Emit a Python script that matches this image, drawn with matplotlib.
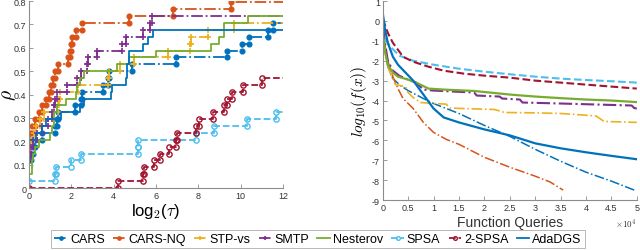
import numpy as np
import matplotlib
matplotlib.use("Agg")
import matplotlib.pyplot as plt
from matplotlib.ticker import FuncFormatter

plt.rcParams["font.family"] = ["Liberation Sans", "DejaVu Sans"]
plt.rcParams["mathtext.fontset"] = "cm"
plt.rcParams["axes.unicode_minus"] = False

# ---- performance profile (left): step positions log2(tau) and rho after each step
names = ["CARS", "CARS-NQ", "STP-vs", "SMTP", "Nesterov", "SPSA", "2-SPSA", "AdaDGS"]

tau_cars = [0, 0.1, 0.2, 0.3, 0.6, 1.25, 1.3, 1.35, 2.15, 2.45, 2.5, 3.48, 3.75, 3.8,
            4.85, 6.93, 9.34, 10.08, 10.39, 11.27, 11.54]
rho_cars = [0.118, 0.147, 0.176, 0.206, 0.235, 0.265, 0.294, 0.324, 0.353, 0.382, 0.412,
            0.441, 0.471, 0.5, 0.529, 0.559, 0.588, 0.618, 0.647, 0.676, 0.706]

tau_nq = [0, 0.05, 0.15, 0.3, 0.45, 0.6, 0.8, 0.95, 1.05, 1.15, 1.25, 1.35, 1.85, 1.95,
          2.0, 2.05, 2.2, 2.5, 4.7, 6.8, 9.55]
rho_nq = [0.206, 0.235, 0.265, 0.294, 0.324, 0.353, 0.382, 0.412, 0.441, 0.471, 0.5,
          0.529, 0.559, 0.588, 0.618, 0.647, 0.676, 0.706, 0.735, 0.765, 0.794]

tau_stp = [0, 0.05, 0.1, 0.25, 0.35, 0.5, 0.7, 1.35, 1.4, 1.45, 2.3, 3.75, 3.8, 4.3,
           4.95, 6.58, 7.6, 7.65, 8.45, 9.7]
rho_stp = [0.147, 0.176, 0.206, 0.235, 0.265, 0.294, 0.324, 0.353, 0.382, 0.412, 0.441,
           0.471, 0.5, 0.529, 0.559, 0.588, 0.618, 0.647, 0.676, 0.706]

tau_smtp = [0, 0.05, 0.1, 0.2, 0.4, 0.6, 0.9, 1.1, 1.2, 1.25, 1.3, 1.8, 2.25, 2.45,
            2.75, 2.8, 3.2, 4.4, 4.6, 5.4, 5.7, 5.8]
rho_smtp = [0.118, 0.147, 0.176, 0.206, 0.235, 0.265, 0.294, 0.324, 0.353, 0.382, 0.412,
            0.441, 0.471, 0.5, 0.529, 0.559, 0.588, 0.618, 0.647, 0.676, 0.706, 0.735]

tau_nest = [0.1, 0.15, 0.2, 0.3, 0.45, 1.0, 1.1, 1.2, 1.3, 1.75, 2.2, 2.25, 2.4, 2.6,
            4.15, 4.7, 6.0, 8.58, 8.99, 9.21, 10.36]
rho_nest = [0.059, 0.118, 0.147, 0.176, 0.206, 0.235, 0.265, 0.324, 0.353, 0.382, 0.412,
            0.441, 0.471, 0.5, 0.529, 0.559, 0.588, 0.618, 0.647, 0.706, 0.735]

tau_spsa = [0, 1.23, 1.26, 2.0, 2.46, 5.13, 5.15, 7.87, 8.76, 10.28, 11.65]
rho_spsa = [0.029, 0.059, 0.088, 0.118, 0.147, 0.176, 0.206, 0.235, 0.265, 0.294, 0.324]

tau_2spsa = [0, 4.22, 5.4, 5.45, 5.9, 6.2, 6.6, 6.95, 7.0, 7.9, 8.05, 8.7, 9.2, 9.35,
             9.6, 10.1, 11.0]
rho_2spsa = [0, 0.029, 0.059, 0.088, 0.118, 0.147, 0.176, 0.206, 0.235, 0.265, 0.294,
             0.324, 0.353, 0.382, 0.412, 0.441, 0.471]

tau_ada = [0, 0.35, 0.6, 0.8, 1.5, 2.4, 2.6, 3.85, 3.9, 4.6, 4.62, 4.65, 4.7, 5.4, 5.6, 5.85]
rho_ada = [0.206, 0.235, 0.265, 0.294, 0.324, 0.353, 0.382, 0.412, 0.441, 0.471, 0.5,
           0.529, 0.588, 0.618, 0.647, 0.676]

# ---- convergence (right): function queries (x1e4) vs log10 f(x)
q_cars = [0, 0.02, 0.05, 0.1, 0.2, 0.35, 0.5, 0.8, 1.0, 1.5, 2.0, 2.5, 3.0, 3.5, 4.0, 4.5, 4.95]
f_cars = [0.4, -0.5, -1.5, -2.3, -2.9, -3.25, -3.5, -3.9, -4.15, -4.65, -5.25, -5.8,
          -6.45, -7.05, -7.6, -8.05, -8.5]
q_nq = [0, 0.05, 0.1, 0.2, 0.3, 0.4, 0.5, 0.6, 0.8, 1.0, 1.25, 1.5, 2.0, 2.5, 3.0, 3.3, 3.55]
f_nq = [-0.3, -1.3, -2.0, -2.8, -3.4, -3.9, -4.15, -4.4, -5.1, -5.6, -5.95, -6.2, -6.85,
        -7.35, -7.8, -8.1, -8.5]
q_stp = [0, 0.05, 0.1, 0.16, 0.25, 0.45, 0.5, 0.6, 0.75, 1.0, 1.25, 1.32, 1.8, 2.2, 2.4,
         3.0, 3.5, 3.9, 4.2, 4.3, 4.35, 5.0]
f_stp = [-0.5, -1.6, -2.3, -2.7, -3.2, -3.3, -3.6, -3.85, -4.1, -4.15, -4.18, -4.38,
         -4.42, -4.45, -4.6, -4.62, -4.65, -4.72, -4.78, -4.95, -5.05, -5.1]
q_smtp = [0, 0.05, 0.1, 0.2, 0.33, 0.5, 0.66, 0.8, 1.0, 1.4, 1.8, 1.85, 2.3, 2.35, 2.7,
          2.75, 3.5, 4.2, 4.9, 4.95, 5.0]
f_smtp = [-0.3, -1.2, -2.0, -2.5, -2.76, -2.95, -3.1, -3.45, -3.5, -3.55, -3.6, -3.75,
          -3.8, -3.9, -3.95, -4.1, -4.15, -4.2, -4.25, -4.38, -4.4]
q_nest = [0, 0.05, 0.1, 0.2, 0.3, 0.5, 0.7, 0.9, 1.2, 1.8, 2.5, 3.0, 3.5, 4.0, 4.5, 5.0]
f_nest = [-0.6, -1.6, -2.2, -2.6, -2.8, -2.95, -3.15, -3.4, -3.45, -3.52, -3.7, -3.8,
          -3.88, -3.95, -4.0, -4.08]
q_spsa = [0.05, 0.15, 0.33, 0.6, 1.0, 1.5, 2.0, 2.5, 3.0, 3.5, 4.0, 4.5, 5.0]
f_spsa = [-0.9, -1.3, -1.75, -2.0, -2.2, -2.4, -2.55, -2.68, -2.8, -2.9, -2.97, -3.03, -3.1]
q_2spsa = [0, 0.1, 0.2, 0.4, 0.6, 0.9, 1.2, 1.6, 2.0, 2.5, 3.0, 3.5, 4.0, 4.5, 5.0]
f_2spsa = [0.1, -0.6, -1.1, -1.8, -2.05, -2.3, -2.5, -2.65, -2.75, -2.85, -3.0, -3.1,
           -3.2, -3.3, -3.4]
q_ada = [0, 0.05, 0.1, 0.2, 0.3, 0.45, 0.6, 0.8, 1.0, 1.2, 1.5, 2.0, 2.5, 3.0, 3.5, 4.0, 4.5, 5.0]
f_ada = [0.4, -0.5, -1.1, -1.8, -2.2, -2.6, -3.0, -3.7, -4.4, -4.85, -5.1, -5.45, -5.75,
         -6.15, -6.4, -6.6, -6.78, -6.95]

profiles = [(tau_cars, rho_cars), (tau_nq, rho_nq), (tau_stp, rho_stp), (tau_smtp, rho_smtp),
            (tau_nest, rho_nest), (tau_spsa, rho_spsa), (tau_2spsa, rho_2spsa), (tau_ada, rho_ada)]
curves = [(q_cars, f_cars), (q_nq, f_nq), (q_stp, f_stp), (q_smtp, f_smtp),
          (q_nest, f_nest), (q_spsa, f_spsa), (q_2spsa, f_2spsa), (q_ada, f_ada)]

colors = ["#0072BD", "#D95319", "#EDB120", "#7E2F8E", "#77AC30", "#4DBEEE", "#A2142F", "#0072BD"]
styles = [
    dict(ls="-.", marker="o", ms=3.4, mfc=None),
    dict(ls="-.", marker="o", ms=3.4, mfc=None),
    dict(ls="-.", marker="+", ms=5, mfc=None),
    dict(ls="-.", marker="+", ms=5, mfc=None),
    dict(ls="-", marker=None, ms=0, mfc=None),
    dict(ls="--", marker="o", ms=3.8, mfc="none"),
    dict(ls="--", marker="o", ms=3.8, mfc="none"),
    dict(ls="-", marker=None, ms=0, mfc=None),
]
right_lw = [1.1, 1.1, 1.2, 1.5, 1.6, 1.5, 1.5, 1.6]
right_ls = ["-.", "-.", "-.", "-.", "-", "--", "--", "-"]


def stairs(tau, rho, x_end=12):
    xs, ys = [], []
    for i, (t, r) in enumerate(zip(tau, rho)):
        if i > 0:
            xs.append(t)
            ys.append(rho[i - 1])
        xs.append(t)
        ys.append(r)
    xs.append(x_end)
    ys.append(rho[-1])
    return xs, ys


def style_axis(ax):
    for side in ["top", "right"]:
        ax.spines[side].set_visible(False)
    for side in ["left", "bottom"]:
        ax.spines[side].set_color("#8c8c8c")
        ax.spines[side].set_linewidth(0.8)
    ax.tick_params(direction="in", length=3, width=0.6, colors="#8c8c8c",
                   labelcolor="#333333", labelsize=6.5, pad=2)


fig = plt.figure(figsize=(6.4, 2.51), dpi=100)
ax1 = fig.add_axes([0.0453, 0.247, 0.397, 0.745])
ax2 = fig.add_axes([0.598, 0.199, 0.397, 0.793])

handles = []
for name, (tau, rho), c, st in zip(names, profiles, colors, styles):
    xs, ys = stairs(tau, rho)
    kw = dict(color=c, lw=1.3, ls=st["ls"], label=name)
    if st["marker"]:
        kw.update(marker=st["marker"], ms=st["ms"], markevery=list(range(len(xs) - 1)),
                  mew=1.2 if st["marker"] == "+" else 1.0)
        if st["mfc"] is not None:
            kw["mfc"] = st["mfc"]
    (h,) = ax1.plot(xs, ys, **kw)
    handles.append(h)

ax1.set_xlim(0, 12)
ax1.set_ylim(0, 0.8)
ax1.set_xticks(np.arange(0, 13, 2))
ax1.set_yticks(np.arange(0, 0.81, 0.1))
ax1.xaxis.set_major_formatter(FuncFormatter(lambda v, p: f"{v:g}"))
ax1.yaxis.set_major_formatter(FuncFormatter(lambda v, p: f"{v:.1f}" if v > 0 else "0"))
style_axis(ax1)
ax1.set_xlabel(r"log$_2$($\tau$)", fontsize=12, labelpad=1)
ax1.set_ylabel(r"$\rho$", fontsize=14)
ax1.yaxis.set_label_coords(-0.043, 0.5)

for (q, f), c, lw, ls in zip(curves, colors, right_lw, right_ls):
    ax2.plot(q, f, color=c, lw=lw, ls=ls)

ax2.set_xlim(0, 5)
ax2.set_ylim(-9, 1)
ax2.set_xticks(np.arange(0, 5.01, 0.5))
ax2.set_yticks(np.arange(-9, 2, 1))
ax2.xaxis.set_major_formatter(FuncFormatter(lambda v, p: f"{v:g}"))
ax2.yaxis.set_major_formatter(FuncFormatter(lambda v, p: f"{v:g}"))
style_axis(ax2)
ax2.set_xlabel("Function Queries", fontsize=10, labelpad=2, color="#333333")
ax2.set_ylabel(r"$log_{10}(f(x))$", fontsize=11, labelpad=2)
ax2.text(1.0, -0.085, r"$\times10^4$", transform=ax2.transAxes, ha="right", va="top",
         fontsize=6.5, color="#333333")

leg = fig.legend(handles=handles, labels=names, loc="center", bbox_to_anchor=(0.497, 0.044),
                 ncol=8, fontsize=9, frameon=True, fancybox=False, handlelength=1.0,
                 handletextpad=0.25, columnspacing=0.65, borderpad=0.25, borderaxespad=0,
                 markerscale=0.7)
leg.get_frame().set_edgecolor("#999999")
leg.get_frame().set_linewidth(0.6)

fig.savefig("out.png", dpi=100)
